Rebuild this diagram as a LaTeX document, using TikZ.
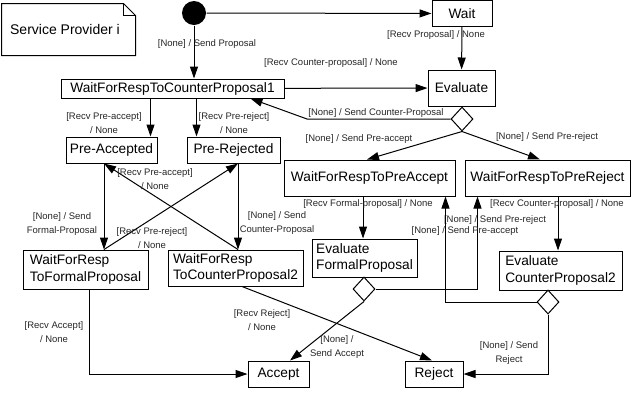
\documentclass[tikz,border=0pt]{standalone}
\usepackage{fontspec}
\setmainfont{Liberation Sans}
\usetikzlibrary{arrows.meta, shapes.geometric, positioning}

\tikzset{
    box/.style={draw, rectangle, inner sep=0pt, align=left, font=\fontsize{13.7}{16.5}\selectfont},
    choice/.style={draw, diamond, inner sep=0pt, minimum width=22pt, minimum height=24pt, fill=white},
    lbl/.style={inner sep=0pt, align=center, text=black!85, font=\fontsize{9.5}{13.5}\selectfont},
}

\begin{document}
\begin{tikzpicture}[x=1pt, y=-1pt, line width=1pt, >={Triangle[length=12pt,width=8pt]}]
    \useasboundingbox (0,0) rectangle (631,392);

    % note
    \node[inner sep=0pt, minimum width=133pt, minimum height=51pt, font=\fontsize{14}{16}\selectfont] (note) at (68.5,29.5) {};
    \node[inner sep=0pt, font=\fontsize{14}{16}\selectfont] (notetext) at (65,29.5) {Service Provider i};
    \draw (note.north west) -- ([xshift=-12pt]note.north east) -- ([yshift=-12pt]note.north east) -- (note.south east) -- (note.south west) -- cycle;
    \draw ([xshift=-12pt]note.north east) -- ([xshift=-12pt,yshift=-12pt]note.north east) -- ([yshift=-12pt]note.north east);

    % states
    \node[circle, fill=black, inner sep=0pt, minimum size=24pt] (start) at (194,13) {}; % start
    \node[box, minimum width=60pt, minimum height=26pt] (wait) at (462,13.5) {Wait};
    \node[box, minimum width=67pt, minimum height=36pt] (evaluate) at (461.5,88) {Evaluate};
    \node[choice] (dEval) at (462,119) {};
    \node[box, minimum width=223pt, minimum height=19pt] (wfr1) at (172.5,88.5) {WaitForRespToCounterProposal1};
    \node[box, minimum width=91pt, minimum height=26pt] (preacc) at (111.5,150) {Pre-Accepted};
    \node[box, minimum width=93pt, minimum height=26pt] (prerej) at (233.5,150) {Pre-Rejected};
    \node[box, minimum width=171pt, minimum height=36pt] (wfpa) at (369.5,178) {WaitForRespToPreAccept};
    \node[box, minimum width=165pt, minimum height=36pt] (wfpr) at (547.5,178) {WaitForRespToPreReject};
    \node[box, minimum width=125pt, minimum height=39pt] (wffp) at (85.5,269.5) {WaitForResp\\ToFormalProposal};
    \node[box, minimum width=135pt, minimum height=36pt] (wfr2) at (235.5,268) {WaitForResp\\ToCounterProposal2};
    \node[box, minimum width=105pt, minimum height=38pt] (efp) at (364.5,258) {Evaluate\\FormalProposal};
    \node[box, minimum width=123pt, minimum height=39pt] (ecp2) at (560.5,270.5) {Evaluate\\CounterProposal2};
    \node[choice] (dEfp) at (364,289) {};
    \node[choice] (dEcp) at (548,302) {};
    \node[box, minimum width=61pt, minimum height=26pt] (accept) at (278.5,374) {Accept};
    \node[box, minimum width=58pt, minimum height=26pt] (reject) at (434,374) {Reject};

    % helper points
    \coordinate (cpbend) at (307,119);
    \coordinate (cpend) at ([xshift=-34pt]wfr1.south east);
    \coordinate (pa) at ([xshift=-7pt]preacc.north east);
    \coordinate (pr) at ([xshift=10pt]prerej.north west);
    \coordinate (pas) at ([xshift=-7.5pt]preacc.south);
    \coordinate (prs) at ([xshift=4.5pt]prerej.south);
    \coordinate (ffs) at ([xshift=3.5pt]wffp.south);
    \coordinate (pas2) at ([xshift=-6.5pt]wfpa.south);
    \coordinate (prs2) at ([xshift=10.5pt]wfpr.south);
    \coordinate (prin) at ([xshift=13pt]wfpr.south west);
    \coordinate (pain) at ([xshift=-10pt]wfpa.south east);

    % transitions
    \draw[->] (start) -- (wait);
    \draw[->] (start) -- (start |- wfr1.north) node[lbl] at (207,44) {[None] / Send Proposal};
    \draw[->] (wait) -- (evaluate) node[lbl] at (436,35) {[Recv Proposal] / None};
    \draw[->] (wfr1) -- (evaluate) node[lbl] at (331,63) {[Recv Counter-proposal] / None};
    \draw[->] (dEval.west) -- (cpbend) -- (cpend) node[lbl] at (376,113) {[None] / Send Counter-Proposal};
    \draw[->] (dEval.south) -- ([xshift=-2.5pt]wfpa.north) node[lbl] at (359,139) {[None] / Send Pre-accept};
    \draw[->] (dEval.south) -- ([xshift=-7.5pt]wfpr.north) node[lbl] at (547,137) {[None] / Send Pre-reject};

    \draw[->] (wfr1.south -| pa) -- (pa) node[lbl] at (104,123) {[Recv Pre-accept]\\/ None};
    \draw[->] (wfr1.south -| pr) -- (pr) node[lbl] at (234,123) {[Recv Pre-reject]\\/ None};
    \draw[->] (pas) -- (pas |- wffp.north) node[lbl] at (62,224) {[None] / Send\\Formal-Proposal};
    \draw[->] (prs) -- (prs |- wfr2.north) node[lbl] at (277,223) {[None] / Send\\Counter-Proposal};
    \draw[->] (prs |- wfr2.north) -- (pas) node[lbl] at (155,179) {[Recv Pre-accept]\\/ None};
    \draw[->] (pas |- wffp.north) -- (prs) node[lbl] at (152,238) {[Recv Pre-reject]\\/ None};

    \draw[->] (ffs) |- (accept.west) node[lbl] at (54,332) {[Recv Accept]\\/ None};
    \draw[->] (pas2) -- (pas2 |- efp.north) node[lbl] at (368,204) {[Recv Formal-proposal] / None};
    \draw[->] (prs2) -- (prs2 |- ecp2.north) node[lbl] at (557,204) {[Recv Counter-proposal] / None};
    \draw[->] (dEfp.east) -| (prin) node[lbl] at (495,220) {[None] / Send Pre-reject};
    \draw[->] (dEcp.west) -| (pain) node[lbl] at (465,231) {[None] / Send Pre-accept};
    \draw[->] (dEfp.south) -- ([xshift=11.5pt]accept.north) node[lbl] at (337,347) {[None] /\\Send Accept};
    \draw[->] ([xshift=6.5pt]wfr2.south) -- ([xshift=-2pt]reject.north) node[lbl] at (262,320) {[Recv Reject]\\/ None};
    \draw[->] (dEcp.south) |- (reject.east) node[lbl] at (509,353) {[None] / Send\\Reject};
\end{tikzpicture}
\end{document}
